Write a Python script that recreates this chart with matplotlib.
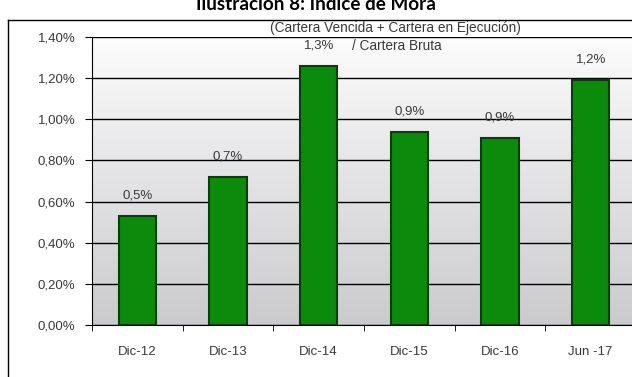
import numpy as np
import matplotlib
matplotlib.use('Agg')
import matplotlib.pyplot as plt
from matplotlib.colors import LinearSegmentedColormap
from matplotlib.lines import Line2D
from matplotlib.ticker import FuncFormatter, FixedLocator

# Índice de mora por periodo (%)
periodos = ['Dic-12', 'Dic-13', 'Dic-14', 'Dic-15', 'Dic-16', 'Jun -17']
mora = [0.53, 0.72, 1.26, 0.94, 0.91, 1.19]
etiquetas = ['0,5%', '0,7%', '1,3%', '0,9%', '0,9%', '1,2%']

fuente = ['Liberation Sans', 'DejaVu Sans']
gris = '#3a3a3a'

fig = plt.figure(figsize=(6.32, 3.77), dpi=100)
fig.patch.set_facecolor('white')
ax = fig.add_axes([92 / 632, 1 - 325 / 377, 544 / 632, 288 / 377])

x = np.arange(len(periodos))

# fondo degradado del área de trazado
degr = LinearSegmentedColormap.from_list('degr', ['#cbcbce', '#e3e3e5', '#fcfcfc'])
ax.imshow(np.linspace(0, 1, 256)[:, None], cmap=degr, origin='lower',
          extent=[-0.5, 5.5, 0, 1.4], aspect='auto', zorder=0)

ax.bar(x, mora, width=0.41, color='#0b8a0b', edgecolor='#0b3d0b', linewidth=1.5, zorder=3)

for xi, v, t in zip(x, mora, etiquetas):
    ax.text(xi, v + 0.07, t, ha='center', va='bottom', fontsize=9.5, color=gris, family=fuente)

ax.set_xlim(-0.5, 5.5)
ax.set_ylim(0, 1.4)
ax.set_yticks(np.arange(0, 1.41, 0.2))
ax.yaxis.set_major_formatter(FuncFormatter(lambda v, p: f'{v:.2f}%'.replace('.', ',')))
ax.grid(axis='y', color='black', linewidth=1, zorder=1)
ax.set_axisbelow(False)

ax.set_xticks(x)
ax.set_xticklabels(periodos)
ax.xaxis.set_minor_locator(FixedLocator(np.arange(-0.5, 6, 1)))
ax.tick_params(axis='x', which='major', length=0, pad=15)
ax.tick_params(axis='x', which='minor', length=4, color='black')
ax.tick_params(axis='y', length=5, color='black', pad=7)
for lbl in ax.get_xticklabels() + ax.get_yticklabels():
    lbl.set_family(fuente)
    lbl.set_fontsize(9.5)
    lbl.set_color(gris)

for s in ['top', 'right']:
    ax.spines[s].set_visible(False)
ax.spines['left'].set_color('black')
ax.spines['bottom'].set_color('black')

# marco exterior
fig.add_artist(Line2D([8 / 632, 8 / 632], [0, 1 - 20 / 377], color='black', linewidth=1))
fig.add_artist(Line2D([8 / 632, 1], [1 - 20 / 377, 1 - 20 / 377], color='black', linewidth=1))

fig.text(0.5, 1 - 10 / 377, 'Ilustración 8: Índice de Mora', ha='center', va='baseline',
         fontsize=13.6, fontweight='bold', family=['Lato', 'DejaVu Sans'])
fig.text(395 / 632, 1 - 28 / 377, '(Cartera Vencida + Cartera en Ejecución)', ha='center',
         va='center', fontsize=9.8, color=gris, family=fuente)
fig.text(352 / 632, 1 - 46 / 377, '/ Cartera Bruta', ha='left', va='center',
         fontsize=9.8, color=gris, family=fuente)

fig.savefig('out.png', dpi=100)
